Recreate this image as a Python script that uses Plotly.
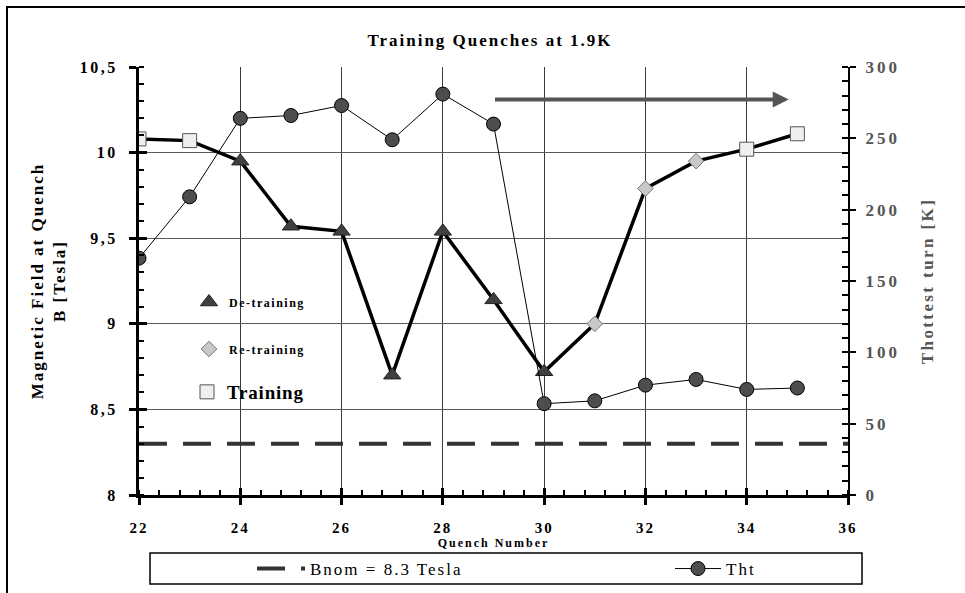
import plotly.graph_objects as go

# ---------------- data ----------------
quench = list(range(22, 36))
b_field = [10.08, 10.07, 9.95, 9.57, 9.54, 8.70, 9.54, 9.14, 8.72, 9.00, 9.79, 9.95, 10.02, 10.11]
phase = ["Training", "Training",
         "De-training", "De-training", "De-training", "De-training", "De-training", "De-training", "De-training",
         "Re-training", "Re-training", "Re-training",
         "Training", "Training"]
t_hot = [166, 209, 264, 266, 273, 249, 281, 260, 64, 66, 77, 81, 74, 75]
b_nom = 8.3

x_ticks = [22, 24, 26, 28, 30, 32, 34, 36]
x_tick_labels = ["22", "24", "26", "28", "30", "32", "34", "36"]
b_ticks = [8, 8.5, 9, 9.5, 10, 10.5]
b_tick_labels = ["8", "8,5", "9", "9,5", "10", "10,5"]
t_ticks = [0, 50, 100, 150, 200, 250, 300]
t_tick_labels = ["0", "50", "100", "150", "200", "250", "300"]

arrow_start, arrow_end, arrow_level = 29.0, 34.83, 10.31

# ---------------- geometry helpers ----------------
W, H = 965, 593
ML, MR, MT, MB = 139, 117, 67, 98
PW, PH = W - ML - MR, H - MT - MB


def fx(px):
    return (px - ML) / PW


def fy(py):
    return (H - MB - py) / PH


def ls(text, sp):
    return '<span style="letter-spacing:%spx">%s</span>' % (sp, text)


SERIF = "Liberation Serif"
xr = [x_ticks[0], x_ticks[-1]]
br = [b_ticks[0], b_ticks[-1]]
tr = [t_ticks[0], t_ticks[-1]]

fig = go.Figure()

# nominal field line
fig.add_trace(go.Scatter(
    x=xr, y=[b_nom, b_nom], mode="lines",
    line=dict(color="#333333", width=4, dash="28px,16px"),
    name=ls("Bnom = 8.3 Tesla", 2), legend="legend", hoverinfo="skip"))

# main B line
fig.add_trace(go.Scatter(
    x=quench, y=b_field, mode="lines",
    line=dict(color="black", width=3.5), showlegend=False, hoverinfo="skip"))

styles = {
    "De-training": dict(symbol="triangle-up", size=15, color="#404040", line=dict(color="#222222", width=1)),
    "Re-training": dict(symbol="diamond", size=12, color="#c8c8c8", line=dict(color="#777777", width=1)),
    "Training": dict(symbol="square", size=14, color="#efefef", line=dict(color="#555555", width=1)),
}
legend_of = {"De-training": "legend3", "Re-training": "legend4", "Training": "legend5"}
label_of = {"De-training": ls("De-training", 1.5), "Re-training": ls("Re-training", 1.5),
            "Training": ls("Training", 0.8)}
for ph in ["De-training", "Re-training", "Training"]:
    xs = [q for q, p in zip(quench, phase) if p == ph]
    ys = [b for b, p in zip(b_field, phase) if p == ph]
    fig.add_trace(go.Scatter(x=xs, y=ys, mode="markers", marker=styles[ph],
                             name=label_of[ph], legend=legend_of[ph]))

# hottest turn temperature
fig.add_trace(go.Scatter(
    x=quench, y=t_hot, yaxis="y2", mode="lines+markers",
    line=dict(color="black", width=1),
    marker=dict(symbol="circle", size=14, color="#4d4d4d", line=dict(color="black", width=1)),
    name=ls("Tht", 2), legend="legend2"))

# helper traces for inside parts of major ticks
fig.add_trace(go.Scatter(x=[None], y=[None], xaxis="x3", yaxis="y", showlegend=False, hoverinfo="skip"))
fig.add_trace(go.Scatter(x=[None], y=[None], xaxis="x", yaxis="y3", showlegend=False, hoverinfo="skip"))
fig.add_trace(go.Scatter(x=[None], y=[None], xaxis="x", yaxis="y4", showlegend=False, hoverinfo="skip"))

tickfont_b = dict(family=SERIF, size=16, color="black", weight="bold")

fig.update_layout(
    width=W, height=H,
    margin=dict(l=ML, r=MR, t=MT, b=MB, autoexpand=False),
    paper_bgcolor="white", plot_bgcolor="white",
    title=dict(text=ls("Training Quenches at 1.9K", 2), x=490 / W, xanchor="center",
               y=1 - 40 / H, yanchor="middle",
               font=dict(family=SERIF, size=17, color="black", weight="bold")),
    xaxis=dict(range=xr, tickmode="array", tickvals=x_ticks, ticktext=[ls(t, 2) for t in x_tick_labels],
               ticks="outside", ticklen=7, tickwidth=3, tickcolor="black",
               showline=True, linewidth=3, linecolor="black",
               showgrid=True, gridcolor="#3a3a3a", gridwidth=1, zeroline=False,
               minor=dict(tickmode="linear", tick0=22, dtick=0.4, ticks="inside", ticklen=5,
                          tickwidth=2, tickcolor="black", showgrid=False),
               tickfont=dict(family=SERIF, size=15, color="black", weight="bold"),
               ticklabelstandoff=10,
               title=dict(text=ls("Quench Number", 2), standoff=2,
                          font=dict(family=SERIF, size=12, color="black", weight="bold")),
               automargin=False),
    yaxis=dict(range=br, tickmode="array", tickvals=b_ticks, ticktext=[ls(t, 2.5) for t in b_tick_labels],
               ticks="outside", ticklen=7, tickwidth=3, tickcolor="black",
               showline=True, linewidth=3, linecolor="black",
               showgrid=True, gridcolor="#5a5a5a", gridwidth=1, zeroline=False,
               minor=dict(tickmode="linear", tick0=8, dtick=0.1, ticks="inside", ticklen=5,
                          tickwidth=2, tickcolor="black", showgrid=False),
               tickfont=tickfont_b, ticklabelstandoff=8,
               title=dict(text=ls("Magnetic Field at Quench", 2) + "<br>" + ls("B [Tesla]", 2), standoff=10,
                          font=dict(family=SERIF, size=17, color="black", weight="bold")),
               automargin=False),
    yaxis2=dict(range=tr, overlaying="y", side="right", anchor="x",
                tickmode="array", tickvals=t_ticks, ticktext=[ls(t, 3) for t in t_tick_labels],
                ticks="outside", ticklen=6, tickwidth=2, tickcolor="black",
                showline=True, linewidth=2, linecolor="black",
                showgrid=False, zeroline=False,
                minor=dict(tickmode="linear", tick0=0, dtick=10, ticks="inside", ticklen=6,
                           tickwidth=1.5, tickcolor="black", showgrid=False),
                tickfont=dict(family=SERIF, size=17, color="#555555", weight="bold"),
                ticklabelstandoff=6,
                title=dict(text=ls("Thottest turn [K]", 2.4), standoff=22,
                           font=dict(family=SERIF, size=17, color="#555555", weight="bold")),
                automargin=False),
    xaxis3=dict(range=xr, overlaying="x", anchor="y", side="bottom",
                tickmode="array", tickvals=x_ticks, ticks="inside", ticklen=7, tickwidth=3,
                tickcolor="black", showticklabels=False, showgrid=False, showline=False, zeroline=False),
    yaxis3=dict(range=br, overlaying="y", anchor="x", side="left",
                tickmode="array", tickvals=b_ticks, ticks="inside", ticklen=8, tickwidth=3,
                tickcolor="black", showticklabels=False, showgrid=False, showline=False, zeroline=False),
    yaxis4=dict(range=tr, overlaying="y", anchor="x", side="right",
                tickmode="array", tickvals=t_ticks, ticks="inside", ticklen=6, tickwidth=2,
                tickcolor="black", showticklabels=False, showgrid=False, showline=False, zeroline=False),
    legend=dict(x=fx(252), y=fy(569), xanchor="left", yanchor="middle", itemwidth=48,
                bgcolor="rgba(0,0,0,0)", borderwidth=0,
                font=dict(family=SERIF, size=17, color="black")),
    legend2=dict(x=fx(670), y=fy(569), xanchor="left", yanchor="middle", itemwidth=46,
                 bgcolor="rgba(0,0,0,0)", borderwidth=0,
                 font=dict(family=SERIF, size=17, color="black")),
    legend3=dict(x=fx(189), y=fy(302), xanchor="left", yanchor="middle",
                 bgcolor="rgba(0,0,0,0)", borderwidth=0,
                 font=dict(family=SERIF, size=12, color="black", weight="bold")),
    legend4=dict(x=fx(189), y=fy(349), xanchor="left", yanchor="middle",
                 bgcolor="rgba(0,0,0,0)", borderwidth=0,
                 font=dict(family=SERIF, size=12, color="black", weight="bold")),
    legend5=dict(x=fx(187), y=fy(392), xanchor="left", yanchor="middle",
                 bgcolor="rgba(0,0,0,0)", borderwidth=0,
                 font=dict(family=SERIF, size=19, color="black", weight="bold")),
    shapes=[
        dict(type="rect", xref="paper", yref="paper", x0=fx(7), y0=fy(7), x1=fx(980), y1=fy(620),
             line=dict(color="black", width=2), fillcolor="rgba(0,0,0,0)", layer="above"),
        dict(type="rect", xref="paper", yref="paper", x0=fx(150), y0=fy(553), x1=fx(862), y1=fy(584),
             line=dict(color="black", width=1.5), fillcolor="rgba(0,0,0,0)", layer="above"),
    ],
    annotations=[
        dict(x=arrow_end, y=arrow_level, ax=arrow_start, ay=arrow_level,
             xref="x", yref="y", axref="x", ayref="y", text="", showarrow=True,
             arrowhead=2, arrowsize=0.8, arrowwidth=4, arrowcolor="#555555"),
    ],
    showlegend=True,
)

fig.write_html("out.html", config={"displayModeBar": False},
               post_script="document.body.style.margin='0';document.body.style.overflow='hidden';")
